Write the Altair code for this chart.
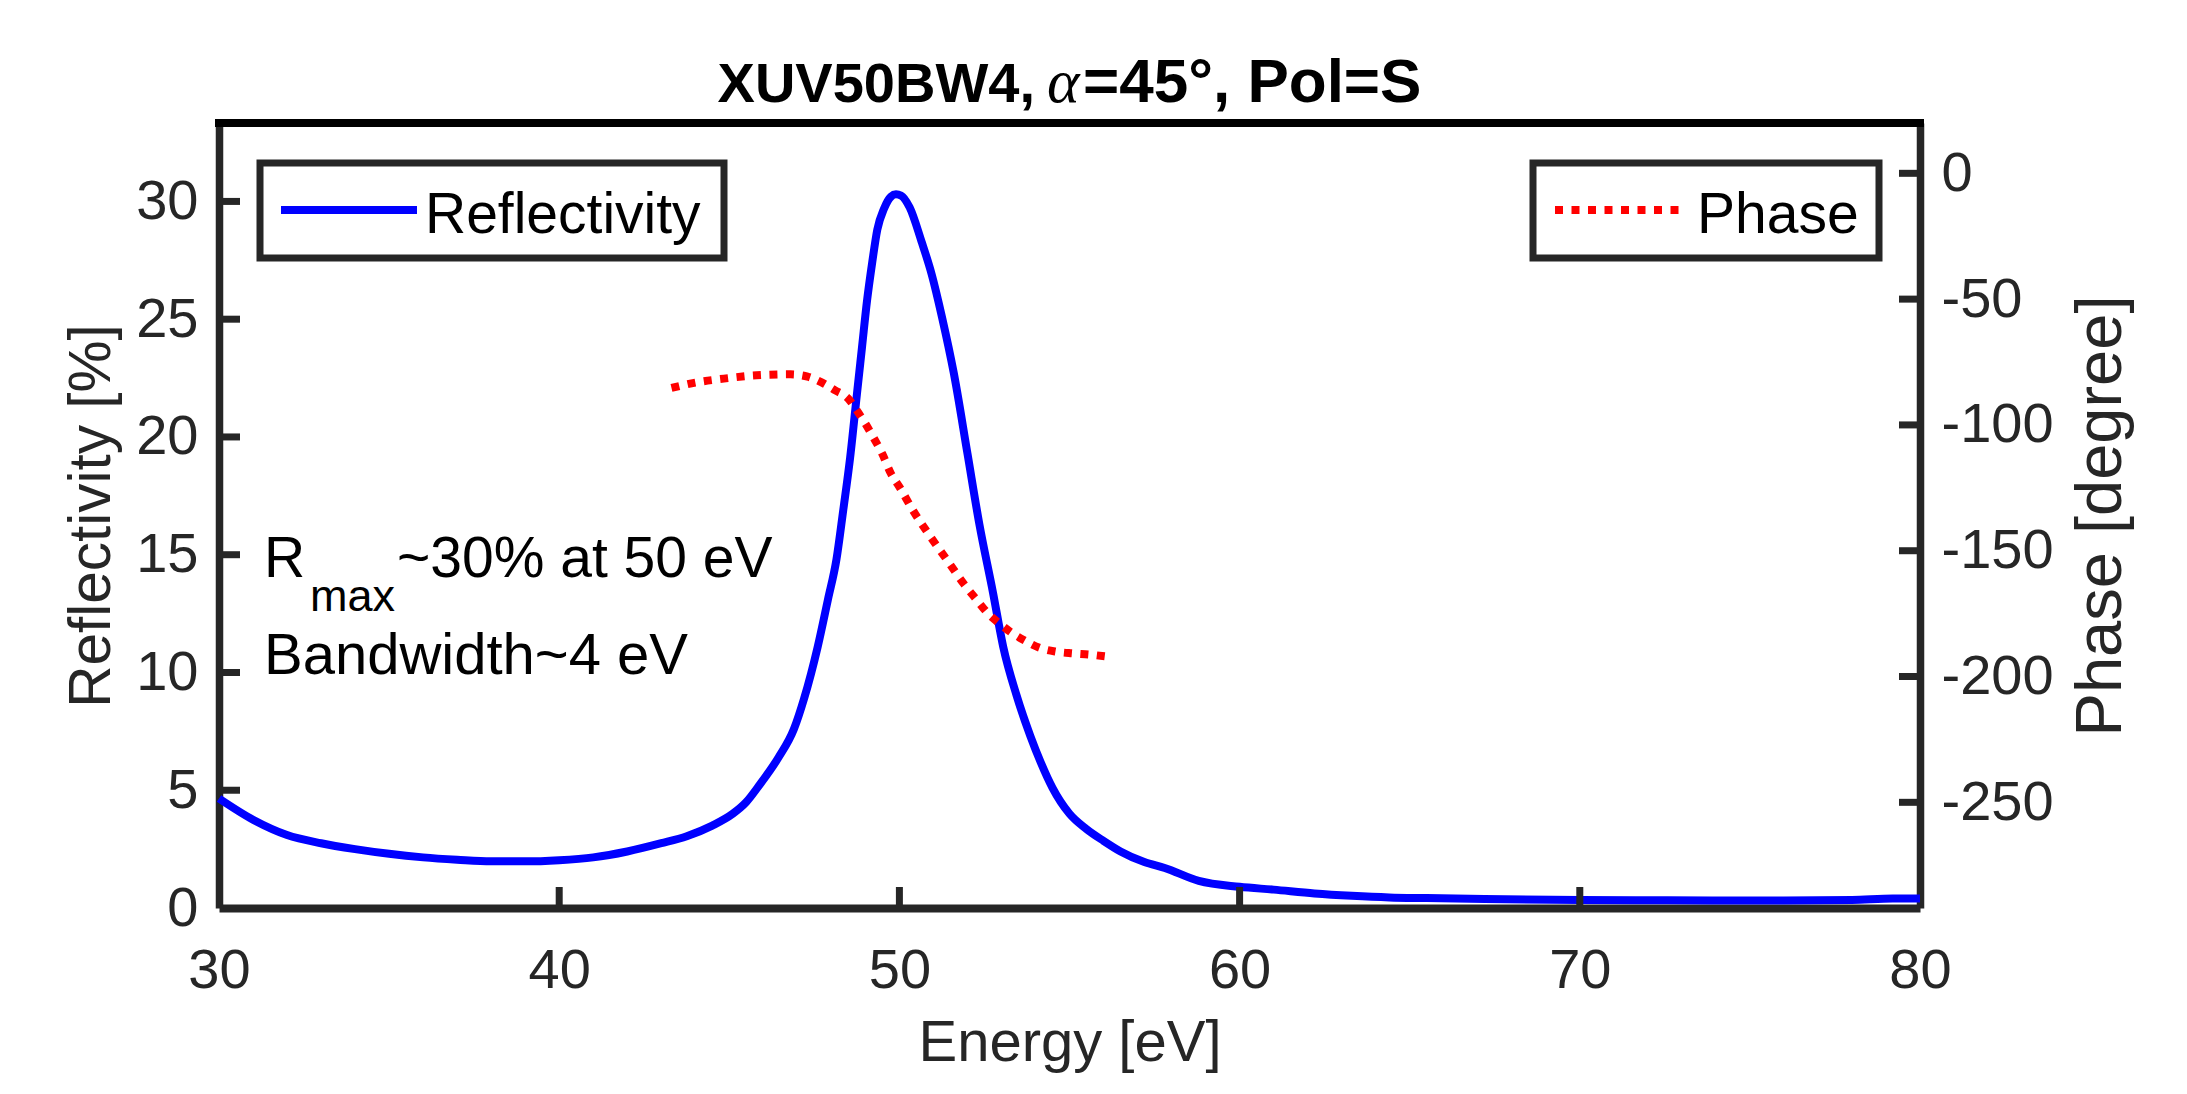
import altair as alt
import pandas as pd

# ---------------- data ----------------
energy_refl = [30, 31, 32, 33, 34, 35, 36, 37, 38, 39, 40, 41, 42, 43, 43.75, 44.5, 45.1,
               45.5, 45.9, 46.45, 46.9, 47.2, 47.6, 47.9, 48.15, 48.35, 48.55, 48.75, 48.9,
               49.05, 49.2, 49.35, 49.55, 49.75, 49.9, 50.05, 50.3, 50.65, 50.95, 51.25,
               51.6, 52.0, 52.35, 52.75, 53.05, 53.45, 53.85, 54.15, 54.5, 55.0, 55.5, 56.0,
               56.5, 57.2, 57.8, 58.8, 60.0, 61.0, 62.2, 63.3, 64.4, 65.5, 67.2, 70.0, 72.0,
               74.0, 76.0, 78.0, 79.2, 80.0]
reflectivity = [4.65, 3.75, 3.1, 2.75, 2.5, 2.3, 2.15, 2.05, 1.98, 1.98, 2.03, 2.15, 2.4,
                2.75, 3.05, 3.5, 4.0, 4.5, 5.25, 6.4, 7.6, 8.9, 11.1, 13.1, 14.8, 16.9, 19.1,
                21.8, 23.8, 25.8, 27.4, 28.8, 29.7, 30.2, 30.3, 30.25, 29.75, 28.3, 26.9,
                25.1, 22.7, 19.3, 16.3, 13.4, 11.1, 9.0, 7.3, 6.2, 5.1, 4.0, 3.35, 2.85,
                2.4, 1.95, 1.7, 1.15, 0.9, 0.78, 0.62, 0.52, 0.45, 0.42, 0.38, 0.34, 0.33,
                0.32, 0.32, 0.34, 0.4, 0.4]

energy_phase = [43.3, 44.0, 44.9, 45.8, 46.8, 47.3, 47.7, 48.1, 48.5, 48.75, 49.0, 49.25,
                49.5, 49.75, 50.0, 50.4, 50.9, 51.4, 51.9, 52.3, 52.6, 52.95, 53.3, 53.7,
                54.1, 54.6, 55.1, 55.6, 56.05]
phase_deg = [-85.3, -83.2, -81.5, -80.3, -79.9, -80.8, -83.0, -86.2, -89.6, -94.3, -99.5,
             -105.3, -111.6, -119.3, -124.6, -134.0, -144.2, -153.7, -163.3, -170.0,
             -174.9, -179.0, -182.6, -185.8, -188.5, -190.1, -190.8, -191.3, -192.0]

energy_ticks = [30, 40, 50, 60, 70, 80]
refl_ticks = [0, 5, 10, 15, 20, 25, 30]
phase_ticks = [0, -50, -100, -150, -200, -250]

title_head = "XUV50BW4,"
title_alpha = "\u03b1"
title_tail = "=45\u00b0, Pol=S"
x_title = "Energy [eV]"
yl_title = "Reflectivity [%]"
yr_title = "Phase [degree]"
legend_left = "Reflectivity"
legend_right = "Phase"
note_r = "R"
note_sub = "max"
note_rest = "~30% at 50 eV"
note_bw = "Bandwidth~4 eV"

# ---------------- styling ----------------
W, H = 1701, 785
FONT = "Liberation Sans"
AX = "#262626"
BLUE = "#0000ff"
RED = "#ff0000"
TICK_LEN = 21

refl_df = pd.DataFrame({"energy": energy_refl, "refl": reflectivity})
phase_df = pd.DataFrame({"energy": energy_phase, "phase": phase_deg})
one = pd.DataFrame({"k": [0]})


def x_scale():
    return alt.Scale(domain=[30, 80], nice=False, zero=False)


def yl_scale():
    return alt.Scale(domain=[0, 33.33], nice=False, zero=False)


def yr_scale():
    return alt.Scale(domain=[-292, 20], nice=False, zero=False)


def x_axis():
    # identical definition on every layer that uses the shared x scale
    return alt.Axis(values=energy_ticks, title=x_title, orient="bottom", grid=False,
                    labelExpr="'' + datum.value",
                    domain=True, domainColor=AX, domainWidth=8, ticks=False,
                    labelFont=FONT, labelFontSize=56, labelColor=AX, labelPadding=35,
                    labelFlush=False,
                    titleFont=FONT, titleFontSize=58, titleColor=AX, titleFontWeight="normal",
                    titleX=W / 2, titleY=106)


yl_axis = alt.Axis(values=refl_ticks, title=yl_title, orient="left", grid=False,
                   labelExpr="'' + datum.value",
                   domain=True, domainColor=AX, domainWidth=7.5, ticks=False,
                   labelFont=FONT, labelFontSize=56, labelColor=AX, labelPadding=21,
                   labelFlush=False,
                   titleFont=FONT, titleFontSize=58.5, titleColor=AX, titleFontWeight="normal",
                   titleAngle=270, titleBaseline="alphabetic",
                   titleX=-110, titleY=H / 2)
yr_axis = alt.Axis(values=phase_ticks, title=yr_title, orient="right", grid=False,
                   labelExpr="'' + datum.value",
                   domain=True, domainColor=AX, domainWidth=7.5, ticks=False,
                   labelFont=FONT, labelFontSize=56, labelColor=AX, labelPadding=21,
                   labelFlush=False,
                   titleFont=FONT, titleFontSize=65, titleColor=AX, titleFontWeight="normal",
                   titleAngle=270, titleBaseline="alphabetic",
                   titleX=200, titleY=H / 2)

refl_line = alt.Chart(refl_df).mark_line(color=BLUE, strokeWidth=8, interpolate="monotone").encode(
    x=alt.X("energy:Q", scale=x_scale(), axis=x_axis()),
    y=alt.Y("refl:Q", scale=yl_scale(), axis=yl_axis),
)

phase_line = alt.Chart(phase_df).mark_line(color=RED, strokeWidth=8, strokeDash=[8, 8.5],
                                           strokeCap="butt", interpolate="monotone").encode(
    x=alt.X("energy:Q", scale=x_scale(), axis=x_axis()),
    y=alt.Y("phase:Q", scale=yr_scale(), axis=yr_axis),
)

x_tick_marks = alt.Chart(pd.DataFrame({"energy": energy_ticks[1:-1]})).mark_rule(
    color=AX, strokeWidth=7).encode(
    x=alt.X("energy:Q", scale=x_scale(), axis=x_axis()),
    y=alt.value(H), y2=alt.value(H - TICK_LEN),
)
yl_tick_marks = alt.Chart(pd.DataFrame({"t": refl_ticks[1:]})).mark_rule(
    color=AX, strokeWidth=7).encode(
    y=alt.Y("t:Q", scale=yl_scale(), axis=None),
    x=alt.value(0), x2=alt.value(TICK_LEN),
)
yr_tick_marks = alt.Chart(pd.DataFrame({"t": phase_ticks})).mark_rule(
    color=AX, strokeWidth=7).encode(
    y=alt.Y("t:Q", scale=yr_scale(), axis=None),
    x=alt.value(W - TICK_LEN), x2=alt.value(W),
)
top_line = alt.Chart(one).mark_rule(color="black", strokeWidth=8).encode(
    x=alt.value(-4), x2=alt.value(W + 4), y=alt.value(0))

# chart title: bold sans with an italic serif alpha, as in the reference
title_a = alt.Chart(one).mark_text(text=title_head, font=FONT, fontSize=56,
                                   fontWeight="bold", align="right",
                                   baseline="alphabetic", color="black").encode(
    x=alt.value(816), y=alt.value(-21))
title_b = alt.Chart(one).mark_text(text=title_alpha, font="Liberation Serif", fontSize=62,
                                   fontStyle="italic", align="left",
                                   baseline="alphabetic", color="black").encode(
    x=alt.value(828), y=alt.value(-21))
title_c = alt.Chart(one).mark_text(text=title_tail, font=FONT, fontSize=62,
                                   fontWeight="bold", align="left",
                                   baseline="alphabetic", color="black").encode(
    x=alt.value(864), y=alt.value(-21))

# legend boxes (drawn as decorations)
box_l = alt.Chart(one).mark_rect(fill="white", stroke=AX, strokeWidth=7).encode(
    x=alt.value(41), x2=alt.value(505), y=alt.value(40), y2=alt.value(135))
sample_l = alt.Chart(one).mark_rule(color=BLUE, strokeWidth=8).encode(
    x=alt.value(62), x2=alt.value(198), y=alt.value(87))
text_l = alt.Chart(one).mark_text(text=legend_left, font=FONT, fontSize=57, align="left",
                                  baseline="alphabetic", color="black").encode(
    x=alt.value(206), y=alt.value(110))
box_r = alt.Chart(one).mark_rect(fill="white", stroke=AX, strokeWidth=7).encode(
    x=alt.value(1314), x2=alt.value(1660), y=alt.value(40), y2=alt.value(135))
sample_r = alt.Chart(one).mark_rule(color=RED, strokeWidth=8, strokeDash=[8, 8.5],
                                    strokeCap="butt").encode(
    x=alt.value(1336), x2=alt.value(1461), y=alt.value(87))
text_r = alt.Chart(one).mark_text(text=legend_right, font=FONT, fontSize=57, align="left",
                                  baseline="alphabetic", color="black").encode(
    x=alt.value(1478), y=alt.value(110))

# annotation
ann_r = alt.Chart(one).mark_text(text=note_r, font=FONT, fontSize=57, align="left",
                                 baseline="alphabetic", color="black").encode(
    x=alt.value(45), y=alt.value(454))
ann_sub = alt.Chart(one).mark_text(text=note_sub, font=FONT, fontSize=45, align="left",
                                   baseline="alphabetic", color="black").encode(
    x=alt.value(91), y=alt.value(488))
ann_rest = alt.Chart(one).mark_text(text=note_rest, font=FONT, fontSize=57, align="left",
                                    baseline="alphabetic", color="black").encode(
    x=alt.value(178), y=alt.value(454))
ann_bw = alt.Chart(one).mark_text(text=note_bw, font=FONT, fontSize=58, align="left",
                                  baseline="alphabetic", color="black").encode(
    x=alt.value(45), y=alt.value(551))

chart = alt.layer(
    refl_line, x_tick_marks, yl_tick_marks, top_line, title_a, title_b, title_c,
    box_l, sample_l, text_l, box_r, sample_r, text_r,
    ann_r, ann_sub, ann_rest, ann_bw,
    phase_line, yr_tick_marks,
).resolve_scale(y="independent").properties(
    width=W, height=H,
    autosize=alt.AutoSizeParams(type="none"),
    padding={"left": 211, "top": 115, "right": 259, "bottom": 178},
).configure(background="white").configure_view(stroke=None)

chart.save("out.html", embed_options={"renderer": "svg", "actions": False})
